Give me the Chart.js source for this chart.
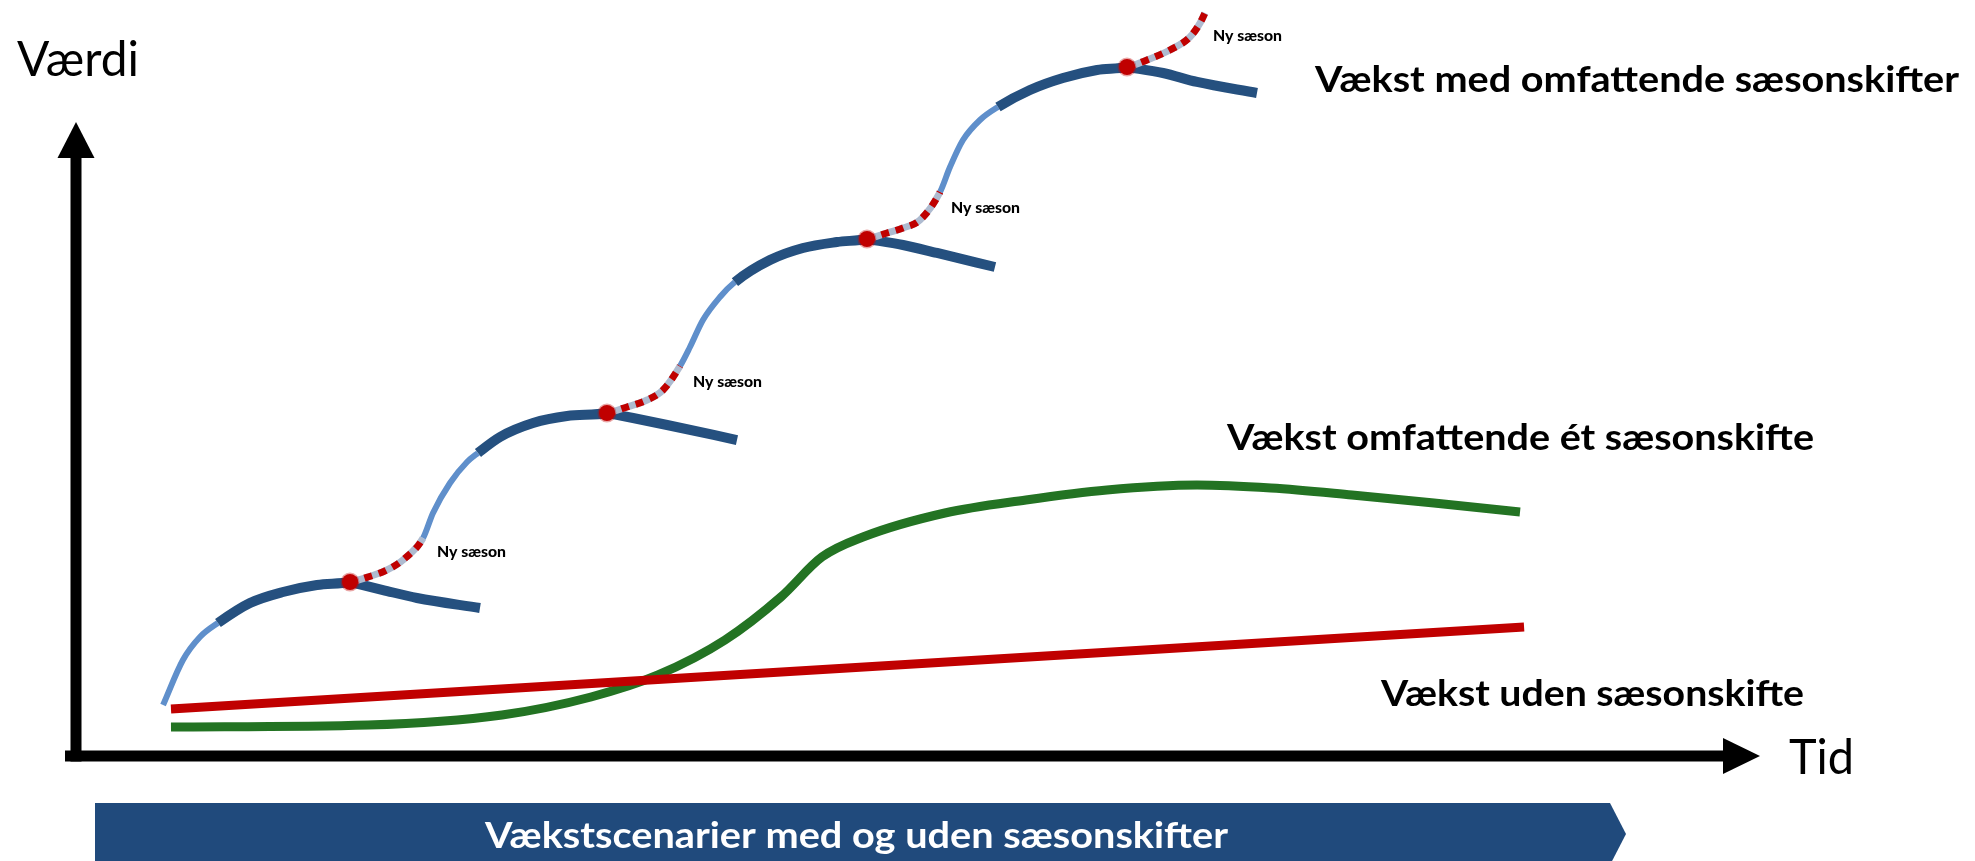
<!DOCTYPE html>
<html lang="da">
<head>
<meta charset="utf-8">
<title>Vækstscenarier med og uden sæsonskifter</title>
<script src="https://cdn.jsdelivr.net/npm/chart.js@4.4.1/dist/chart.umd.min.js"></script>
<style>
  html, body { margin: 0; padding: 0; background: #fff; }
  #wrap { width: 1975px; height: 861px; position: relative; }
</style>
</head>
<body>
<div id="wrap"><canvas id="chart"></canvas></div>
<script>
// Tid (x) og værdi (y) i skemaets egne enheder: begge akser går fra 0 til 100
const udenSaesonskifte = [[5.64, 7.41], [85.99, 20.35]];

const etSaesonskifte = [
  [5.64, 4.57], [17.34, 4.89], [25.30, 6.47], [30.58, 9.31], [34.56, 12.78],
  [38.54, 18.30], [41.86, 25.08], [44.30, 31.39], [46.73, 34.54], [51.60, 38.33],
  [56.41, 40.38], [61.22, 41.96], [66.57, 42.74], [70.96, 42.27], [75.77, 41.17],
  [80.64, 39.91], [85.75, 38.49]
];

// omfattende sæsonskifter: fire sæsoner, hver delt i stigning, modning, fald og ny sæson
const saesonStigning = [
  [[5.17, 8.04], [6.35, 15.14], [7.36, 18.77], [8.43, 20.98]],
  [[20.61, 34.38], [21.20, 38.33], [22.21, 43.06], [23.22, 46.37], [23.87, 47.79]],
  [[35.87, 61.51], [36.46, 64.51], [37.23, 68.77], [38.24, 72.40], [39.13, 74.76]],
  [[51.31, 88.96], [51.90, 92.90], [52.67, 97.16], [53.68, 100.32], [54.75, 102.37]]
];
const saesonModning = [
  [[8.43, 20.98], [10.33, 24.13], [12.29, 25.87], [14.31, 26.97], [16.27, 27.44]],
  [[23.87, 47.79], [25.18, 50.32], [27.14, 52.52], [29.16, 53.63], [31.53, 54.10]],
  [[39.13, 74.76], [41.21, 78.23], [43.17, 80.13], [45.19, 81.07], [46.97, 81.55]],
  [[54.75, 102.37], [56.65, 105.05], [58.61, 106.94], [60.63, 108.20], [62.41, 108.68]]
];
const saesonFald = [
  [[16.27, 27.44], [18.23, 26.18], [20.25, 24.92], [23.99, 23.34]],
  [[31.53, 54.10], [33.08, 53.31], [35.10, 52.21], [39.25, 49.84]],
  [[46.97, 81.55], [49.11, 80.60], [51.13, 79.34], [54.57, 77.13]],
  [[62.41, 108.68], [64.55, 107.73], [66.57, 106.31], [70.13, 104.57]]
];
const nySaeson = [
  [[16.27, 27.44], [17.34, 28.23], [18.47, 29.34], [19.48, 31.07], [20.61, 34.38]],
  [[31.53, 54.10], [32.72, 55.05], [33.91, 56.15], [34.86, 57.73], [35.87, 61.51]],
  [[46.97, 81.55], [48.16, 82.49], [49.11, 83.28], [50.12, 84.54], [51.31, 88.96]],
  [[62.41, 108.68], [63.60, 109.78], [64.96, 111.36], [66.15, 113.41], [66.75, 115.62], [67.04, 117.19]]
];
const saesonToppe = saesonModning.map(s => s[s.length - 1]);

const LYS = '#5F8FCB';
const MORK = '#25507F';
const GRAA = '#AEBBD0';
const ROD = '#C00000';
const GRON = '#237323';
const BANNER = '#204A7C';
const FONT = 'Lato, "Open Sans", sans-serif';

const pkt = arr => arr.map(p => ({x: p[0], y: p[1]}));

// hele den blå kurve som én linje, med en fase pr. stykke
const kurve = [];
const fase = [];
saesonStigning.forEach((stig, i) => {
  [[stig, 'stig'], [saesonModning[i], 'top'], [nySaeson[i], 'ny']].forEach(([del, navn]) => {
    del.forEach((p, j) => {
      if (kurve.length && j === 0) return;
      if (kurve.length) fase.push(navn);
      kurve.push({x: p[0], y: p[1]});
    });
  });
});

const farve = {stig: LYS, top: MORK, ny: GRAA};
const bredde = {stig: 6, top: 10, ny: 7};

const datasets = [
  {
    data: pkt(saesonToppe), showLine: false, order: 0,
    pointRadius: 8, pointBackgroundColor: ROD, pointBorderColor: 'rgba(192,0,0,0.35)', pointBorderWidth: 3
  },
  {
    data: kurve, showLine: true, order: 1, pointRadius: 0, cubicInterpolationMode: 'monotone',
    borderDash: [8, 7], borderWidth: 7, borderColor: ROD,
    segment: { borderColor: c => fase[c.p0DataIndex] === 'ny' ? ROD : 'rgba(0,0,0,0)' }
  },
  {
    data: kurve, showLine: true, order: 2, pointRadius: 0, cubicInterpolationMode: 'monotone',
    borderColor: MORK, borderWidth: 8,
    segment: {
      borderColor: c => farve[fase[c.p0DataIndex]],
      borderWidth: c => bredde[fase[c.p0DataIndex]]
    }
  },
  ...saesonFald.map(f => ({
    data: pkt(f), showLine: true, order: 3, pointRadius: 0,
    cubicInterpolationMode: 'monotone', borderColor: MORK, borderWidth: 10
  })),
  {
    data: pkt(udenSaesonskifte), showLine: true, order: 4, pointRadius: 0,
    borderColor: ROD, borderWidth: 9
  },
  {
    data: pkt(etSaesonskifte), showLine: true, order: 5, pointRadius: 0,
    cubicInterpolationMode: 'monotone', borderColor: GRON, borderWidth: 9
  }
];

// tekst klemt sammen til den bredde den har i forlægget
function tekst(ctx, str, x, y, font, w, color) {
  ctx.save();
  ctx.font = font;
  ctx.fillStyle = color;
  ctx.textBaseline = 'alphabetic';
  ctx.textAlign = 'left';
  const m = ctx.measureText(str).width;
  ctx.translate(x, y);
  ctx.scale(w / m, 1);
  ctx.fillText(str, 0, 0);
  ctx.restore();
}

const skema = {
  id: 'skema',
  beforeDatasetsDraw(chart) {
    const {ctx, scales: {x, y}} = chart;
    const x0 = x.getPixelForValue(0), y0 = y.getPixelForValue(0);
    const xEnd = x.getPixelForValue(100), yEnd = y.getPixelForValue(100);
    ctx.save();
    ctx.fillStyle = '#000';
    // tid-akse
    ctx.fillRect(x0 - 11, y0 - 5.5, xEnd - 36 - (x0 - 11), 11);
    ctx.beginPath();
    ctx.moveTo(xEnd, y0);
    ctx.lineTo(xEnd - 37, y0 - 18);
    ctx.lineTo(xEnd - 37, y0 + 18);
    ctx.closePath();
    ctx.fill();
    // værdi-akse
    ctx.fillRect(x0 - 5.5, yEnd + 35, 11, y0 + 5.5 - (yEnd + 35));
    ctx.beginPath();
    ctx.moveTo(x0, yEnd);
    ctx.lineTo(x0 - 18.5, yEnd + 36);
    ctx.lineTo(x0 + 18.5, yEnd + 36);
    ctx.closePath();
    ctx.fill();
    ctx.restore();
  },
  afterDraw(chart) {
    const {ctx} = chart;
    tekst(ctx, 'Værdi', 17, 76, '400 49px ' + FONT, 122, '#000');
    tekst(ctx, 'Tid', 1789, 774, '400 49px ' + FONT, 65, '#000');

    tekst(ctx, 'Vækst med omfattende sæsonskifter', 1315, 92, '700 37px ' + FONT, 644, '#000');
    tekst(ctx, 'Vækst omfattende ét sæsonskifte', 1227, 450, '700 37px ' + FONT, 587, '#000');
    tekst(ctx, 'Vækst uden sæsonskifte', 1381, 706, '700 37px ' + FONT, 423, '#000');

    [[437, 557], [693, 387], [951, 213], [1213, 41]].forEach(([lx, ly]) => {
      tekst(ctx, 'Ny sæson', lx, ly, '900 15px ' + FONT, 69, '#000');
    });

    // banner nederst
    ctx.save();
    ctx.fillStyle = BANNER;
    ctx.beginPath();
    ctx.moveTo(95, 803);
    ctx.lineTo(1610, 803);
    ctx.lineTo(1626, 834);
    ctx.lineTo(1610, 865);
    ctx.lineTo(95, 865);
    ctx.closePath();
    ctx.fill();
    ctx.restore();
    tekst(ctx, 'Vækstscenarier med og uden sæsonskifter', 485, 848, '700 36px ' + FONT, 743, '#fff');
  }
};

new Chart(document.getElementById('chart'), {
  type: 'scatter',
  data: { datasets: datasets },
  options: {
    responsive: true,
    maintainAspectRatio: false,
    animation: false,
    events: [],
    layout: { padding: 0, autoPadding: false },
    plugins: {
      legend: { display: false },
      tooltip: { enabled: false }
    },
    scales: {
      x: { type: 'linear', display: false, min: -76 / 16.84, max: (1975 - 76) / 16.84 },
      y: { type: 'linear', display: false, min: -(861 - 756) / 6.34, max: 756 / 6.34 }
    }
  },
  plugins: [skema]
});
</script>
</body>
</html>
